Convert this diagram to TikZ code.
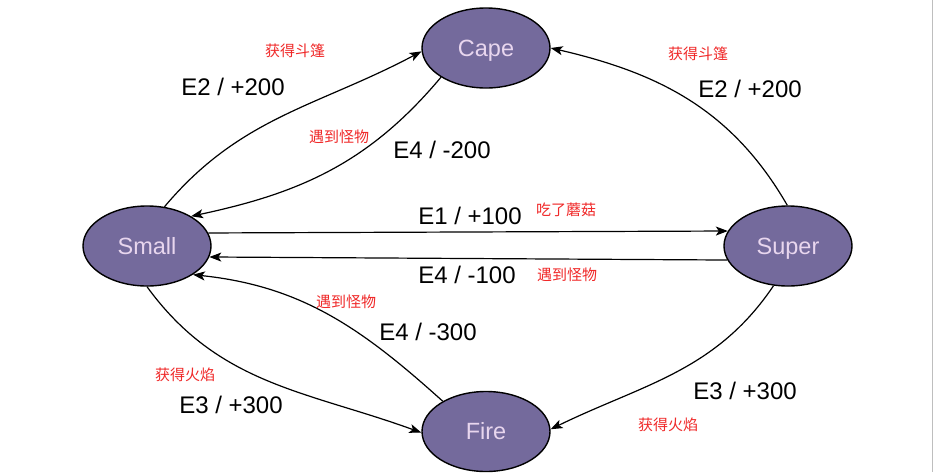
\documentclass[tikz,border=0pt]{standalone}
\usepackage{fontspec}
\setmainfont{Liberation Sans}
\newfontfamily\cjk{Noto Sans CJK SC}
\usetikzlibrary{shapes.geometric,arrows.meta}
\definecolor{statefill}{RGB}{116,106,156}
\definecolor{statetext}{RGB}{232,214,238}
\definecolor{redlbl}{RGB}{240,40,40}
\definecolor{edgegrey}{RGB}{190,190,190}
\begin{document}
\begin{tikzpicture}[x=1pt,y=1pt,
 state/.style={ellipse, draw=black, line width=1.4pt, fill=statefill, text=statetext,
   minimum width=128pt, minimum height=80pt, inner sep=0pt,
   font=\fontsize{23.5}{27}\selectfont, text height=16.9pt, text depth=0pt},
 trans/.style={line width=1.2pt, -{Stealth[length=12pt,width=9pt,inset=3pt]}},
 evt/.style={font=\fontsize{24}{28}\selectfont, anchor=base, inner sep=0pt},
 act/.style={font=\cjk\fontsize{15}{17}\selectfont, text=redlbl, inner sep=0pt}
]
\useasboundingbox[fill=white] (0,0) rectangle (935,-472);
\draw[line width=1.2pt, edgegrey] (932.5,0) -- (932.5,-472);

\node[state] (cape) at (486,-48) {Cape};
\node[state] (small) at (147,-246) {Small};
\node[state] (super) at (788,-246) {Super};
\node[state] (fire) at (486,-431.5) {Fire};

\draw[trans] (small.66) to[out=50,in=208] (cape.183);
\draw[trans] (cape.213) to[out=230,in=12] (small.34);
\draw[trans] (super.91) to[out=120,in=347] (cape.0);
\draw[trans] (small.12) -- (super.166);
\draw[trans] (super.193) -- (small.350);
\draw[trans] (small.270) to[out=-54,in=160] (fire.181);
\draw[trans] (fire.145) to[out=138,in=354] (small.328);
\draw[trans] (super.250) to[out=236,in=26] (fire.2);

\node[evt] (l1) at (233,-95) {E2 / +200};
\node[act] (a1) at (295,-51) {获得斗篷};
\node[act] (a2) at (339,-137) {遇到怪物};
\node[evt] (l2) at (442,-158) {E4 / -200};
\node[act] (a3) at (698,-54) {获得斗篷};
\node[evt] (l3) at (750,-97) {E2 / +200};
\node[evt] (l4) at (470,-224) {E1 / +100};
\node[act] (a4) at (566,-210) {吃了蘑菇};
\node[evt] (l5) at (467,-283) {E4 / -100};
\node[act] (a5) at (567,-275) {遇到怪物};
\node[act] (a6) at (346,-302) {遇到怪物};
\node[evt] (l6) at (428,-340) {E4 / -300};
\node[act] (a7) at (185,-375) {获得火焰};
\node[evt] (l7) at (231,-413) {E3 / +300};
\node[evt] (l8) at (745,-399) {E3 / +300};
\node[act] (a8) at (668,-425) {获得火焰};
\end{tikzpicture}
\end{document}
